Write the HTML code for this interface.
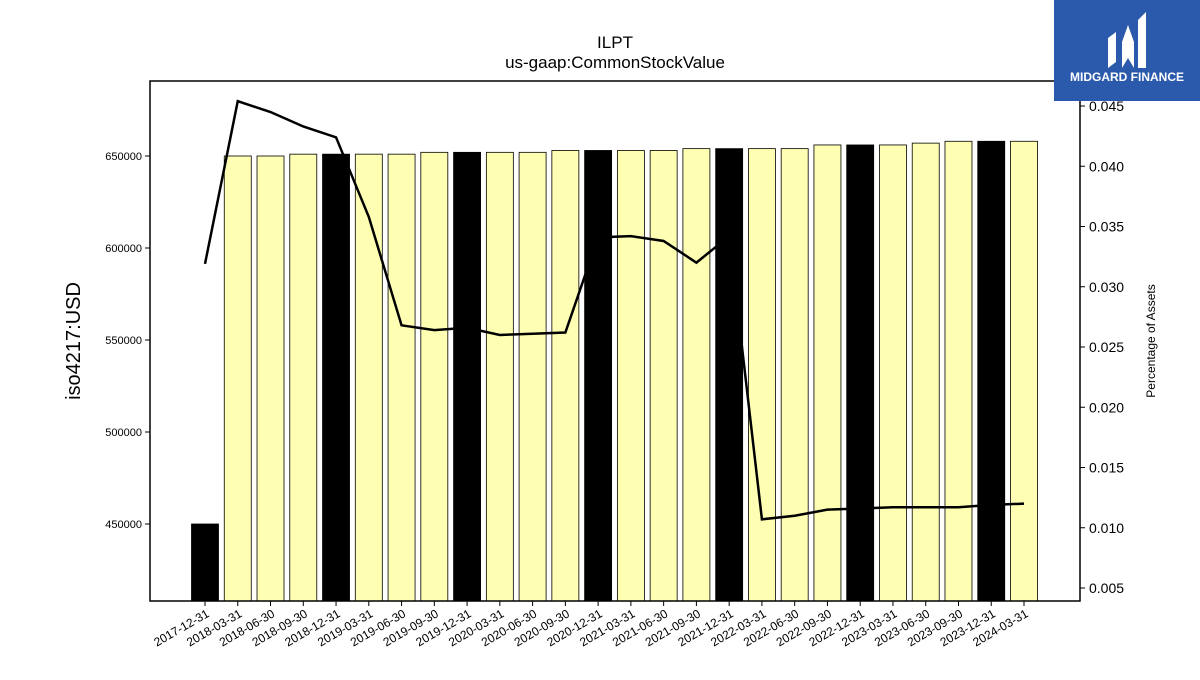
<!DOCTYPE html>
<html><head><meta charset="utf-8"><style>
body{margin:0;background:#fff;font-family:"Liberation Sans","DejaVu Sans",sans-serif}
</style></head><body>
<svg id="c" width="1200" height="675" xmlns="http://www.w3.org/2000/svg">
<text x="615" y="48" text-anchor="middle" font-size="17">ILPT</text>
<text x="615" y="68" text-anchor="middle" font-size="17">us-gaap:CommonStockValue</text>
<text transform="translate(80,341) rotate(-90)" text-anchor="middle" font-size="20">iso4217:USD</text>
<text transform="translate(1155,341) rotate(-90)" text-anchor="middle" font-size="12">Percentage of Assets</text>
<g id="bars"></g><g id="axes"></g>
<rect x="150" y="81" width="930" height="520" fill="none" stroke="#000" stroke-width="1.5"/>
<g>
<rect x="1054" y="0" width="146" height="101" fill="#2b5aad"/>
<path d="M1108 68 V38 L1116 32 V62 Z M1122 42 L1128 25 L1134 42 V68 L1128 58 L1122 68 Z M1138 20 L1146 12 V68 H1138 Z" fill="#fff"/>
<text x="1127" y="81" text-anchor="middle" font-size="12" font-weight="bold" fill="#fff">MIDGARD FINANCE</text>
</g>
</svg>
<script>
const categories=["2017-12-31","2018-03-31","2018-06-30","2018-09-30","2018-12-31","2019-03-31","2019-06-30","2019-09-30","2019-12-31","2020-03-31","2020-06-30","2020-09-30","2020-12-31","2021-03-31","2021-06-30","2021-09-30","2021-12-31","2022-03-31","2022-06-30","2022-09-30","2022-12-31","2023-03-31","2023-06-30","2023-09-30","2023-12-31","2024-03-31"];
const barValues=[450000,650000,650000,651000,651000,651000,651000,652000,652000,652000,652000,653000,653000,653000,653000,654000,654000,654000,654000,656000,656000,656000,657000,658000,658000,658000];
const pctValues=[0.0319,0.0454,0.0445,0.0433,0.0424,0.0358,0.0268,0.0264,0.0266,0.0260,0.0261,0.0262,0.0341,0.0342,0.0338,0.0320,0.0342,0.0107,0.0110,0.0115,0.0116,0.0117,0.0117,0.0117,0.0119,0.0120];
const leftTicks=[450000,500000,550000,600000,650000];
const rightTicks=[0.005,0.010,0.015,0.020,0.025,0.030,0.035,0.040,0.045];
const NS="http://www.w3.org/2000/svg";
const yL=v=>524-(v-450000)/200000*368;
const yR=v=>106-(v-0.045)/0.04*482;
const xC=i=>205+i*32.76;
const bars=document.getElementById('bars'),axes=document.getElementById('axes');
function mk(t,a,p){const e=document.createElementNS(NS,t);for(const k in a)e.setAttribute(k,a[k]);p.appendChild(e);return e;}
categories.forEach((c,i)=>{
 const y=yL(barValues[i]);
 const r=mk('rect',{x:xC(i)-13.5,y:y,width:27,height:601-y,fill:(i%4==0)?'#000':'#ffffb3',stroke:'#000','stroke-width':0.8},bars);
 
 
 mk('line',{x1:xC(i),x2:xC(i),y1:601,y2:606,stroke:'#000'},axes);
 const t=mk('text',{transform:`translate(${xC(i)+5},${616}) rotate(-30)`,'text-anchor':'end','font-size':12},axes);
 t.textContent=c;
 
 
});
leftTicks.forEach(v=>{mk('line',{x1:145,x2:150,y1:yL(v),y2:yL(v),stroke:'#000'},axes);
 const t=mk('text',{x:142,y:yL(v)+4,'text-anchor':'end','font-size':11},axes);t.textContent=v;
 
 });
rightTicks.forEach(v=>{mk('line',{x1:1080,x2:1085,y1:yR(v),y2:yR(v),stroke:'#000'},axes);
 const t=mk('text',{x:1089,y:yR(v)+5,'font-size':14},axes);t.textContent=v.toFixed(3);
 
 });
const pl=mk('polyline',{points:pctValues.map((v,i)=>xC(i)+','+yR(v)).join(' '),fill:'none',stroke:'#000','stroke-width':2.5},axes);


</script>
</body></html>
